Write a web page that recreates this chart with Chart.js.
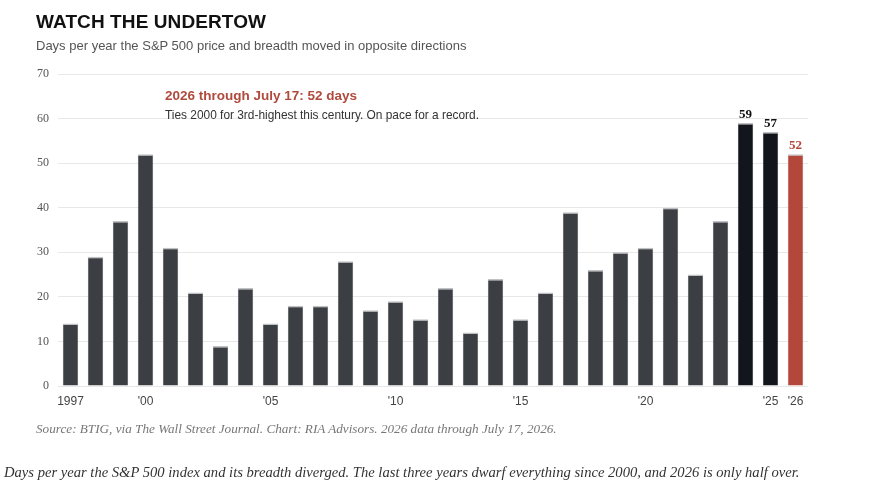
<!DOCTYPE html>
<html>
<head>
<meta charset="utf-8">
<script src="https://cdn.jsdelivr.net/npm/chart.js@4.4.1/dist/chart.umd.min.js"></script>
<style>
  html, body { margin: 0; padding: 0; background: #fff; }
  #wrap { position: relative; width: 873px; height: 488px; overflow: hidden; }
  #chart { position: absolute; left: 0; top: 0; }
  .txt { position: absolute; white-space: nowrap; }
  #title { left: 36px; top: 11px; font: bold 19px "Liberation Sans", Arial, sans-serif; letter-spacing: 0.1px; color: #111; }
  #subtitle { left: 36px; top: 38px; font: 13px "Liberation Sans", Arial, sans-serif; color: #555; }
  #noteHead { left: 165px; top: 88px; font: bold 13.5px "Liberation Sans", Arial, sans-serif; color: #b04a3c; }
  #noteBody { left: 165px; top: 108px; font: 11.9px "Liberation Sans", Arial, sans-serif; color: #333; }
  #source { left: 36px; top: 421px; font: italic 13.2px "Liberation Serif", Georgia, serif; color: #777; }
  #caption { left: 4px; top: 464px; font: italic 14.6px "Liberation Serif", Georgia, serif; color: #333; }
</style>
</head>
<body>
<div id="wrap">
  <canvas id="chart" width="873" height="488"></canvas>
  <div class="txt" id="title">WATCH THE UNDERTOW</div>
  <div class="txt" id="subtitle">Days per year the S&amp;P 500 price and breadth moved in opposite directions</div>
  <div class="txt" id="noteHead">2026 through July 17: 52 days</div>
  <div class="txt" id="noteBody">Ties 2000 for 3rd-highest this century. On pace for a record.</div>
  <div class="txt" id="source">Source: BTIG, via The Wall Street Journal. Chart: RIA Advisors. 2026 data through July 17, 2026.</div>
  <div class="txt" id="caption">Days per year the S&amp;P 500 index and its breadth diverged. The last three years dwarf everything since 2000, and 2026 is only half over.</div>
</div>
<script>
// Data
const years = [1997, 1998, 1999, 2000, 2001, 2002, 2003, 2004, 2005, 2006,
               2007, 2008, 2009, 2010, 2011, 2012, 2013, 2014, 2015, 2016,
               2017, 2018, 2019, 2020, 2021, 2022, 2023, 2024, 2025, 2026];
const days = [14, 29, 37, 52, 31, 21, 9, 22, 14, 18,
              18, 28, 17, 19, 15, 22, 12, 24, 15, 21,
              39, 26, 30, 31, 40, 25, 37, 59, 57, 52];

// x tick labels shown
const tickYears = [1997, 2000, 2005, 2010, 2015, 2020, 2025, 2026];
const tickText = ["1997", "'00", "'05", "'10", "'15", "'20", "'25", "'26"];

// y ticks
const yTicks = [0, 10, 20, 30, 40, 50, 60, 70];

// highlighted years (value labels)
const labelledYears = [2024, 2025, 2026];

const barColors = years.map(y => y === 2026 ? "#b3473a" : (y >= 2024 ? "#12151b" : "#3b3e42"));
const labelColors = { 2024: "#111", 2025: "#111", 2026: "#b3473a" };

// value labels on top of bars
const valueLabels = {
  id: "valueLabels",
  afterDatasetsDraw(chart) {
    const ctx = chart.ctx;
    const meta = chart.getDatasetMeta(0);
    ctx.save();
    ctx.font = "bold 13px 'Liberation Serif', Georgia, serif";
    ctx.textAlign = "center";
    ctx.textBaseline = "bottom";
    labelledYears.forEach(y => {
      const i = years.indexOf(y);
      const bar = meta.data[i];
      ctx.fillStyle = labelColors[y];
      ctx.fillText(String(days[i]), bar.x, bar.y - 2);
    });
    ctx.restore();
  }
};

const ctx = document.getElementById("chart").getContext("2d");

new Chart(ctx, {
  type: "bar",
  data: {
    labels: years,
    datasets: [{
      data: days,
      backgroundColor: barColors,
      borderColor: "rgba(140,142,146,0.55)",
      borderWidth: { top: 1.5, left: 0.5, right: 0.5, bottom: 0 },
      barPercentage: 0.62,
      categoryPercentage: 1.0
    }]
  },
  options: {
    responsive: false,
    animation: false,
    devicePixelRatio: 1,
    layout: { padding: { left: 0, right: 65, top: 74, bottom: 72 } },
    plugins: {
      legend: { display: false },
      tooltip: { enabled: false }
    },
    scales: {
      x: {
        grid: { display: false, drawTicks: false },
        border: { display: false },
        ticks: {
          autoSkip: false,
          maxRotation: 0,
          padding: 8,
          color: "#444",
          font: { family: "'Liberation Sans', Arial, sans-serif", size: 12 },
          callback: function (v, i) {
            const k = tickYears.indexOf(years[i]);
            return k >= 0 ? tickText[k] : "";
          }
        },
        afterFit: s => { s.height = 30; }
      },
      y: {
        min: 0,
        max: 70,
        afterBuildTicks: s => { s.ticks = yTicks.map(v => ({ value: v })); },
        grid: { color: "#e8e8e8", lineWidth: 1, drawTicks: false },
        border: { display: false },
        ticks: {
          padding: 9,
          color: "#555",
          font: { family: "'Liberation Serif', Georgia, serif", size: 12 }
        },
        afterFit: s => { s.width = 58; }
      }
    }
  },
  plugins: [valueLabels]
});
</script>
</body>
</html>
